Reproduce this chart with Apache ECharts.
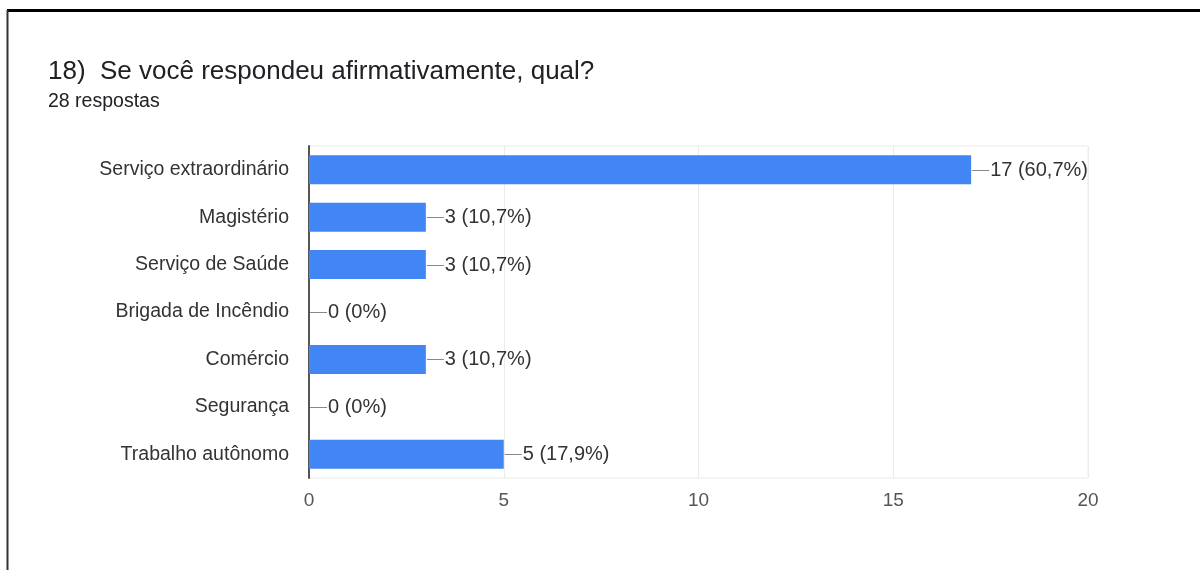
<!DOCTYPE html>
<html>
<head>
<meta charset="utf-8">
<script src="https://cdn.jsdelivr.net/npm/echarts@6/dist/echarts.min.js"></script>
<style>
  html, body { margin: 0; padding: 0; background: #fff; }
  #chartDiv { width: 1200px; height: 570px; }
</style>
</head>
<body>
<div id="chartDiv"></div>
<script>
var categories = [
  "Serviço extraordinário",
  "Magistério",
  "Serviço de Saúde",
  "Brigada de Incêndio",
  "Comércio",
  "Segurança",
  "Trabalho autônomo"
];
var counts = [17, 3, 3, 0, 3, 0, 5];
var percents = ["60,7%", "10,7%", "10,7%", "0%", "10,7%", "0%", "17,9%"];
var xTicks = [0, 5, 10, 15, 20];

var font = "'Liberation Sans', Arial, sans-serif";

var chartDiv = document.getElementById("chartDiv");
var myChart = echarts.init(chartDiv);

// label points: [value, category index]
var labelData = [];
for (var i = 0; i < counts.length; i++) {
  labelData.push([counts[i], i, counts[i] + " (" + percents[i] + ")"]);
}

var option = {
  animation: false,
  textStyle: { fontFamily: font },
  title: {
    left: 43,
    top: 54,
    text: "18)  Se você respondeu afirmativamente, qual?",
    subtext: "28 respostas",
    itemGap: 7,
    textStyle: { fontFamily: font, fontSize: 26, fontWeight: "normal", color: "#202124" },
    subtextStyle: { fontFamily: font, fontSize: 19.5, color: "#202124" }
  },
  graphic: [
    { type: "line", shape: { x1: 7, y1: 10.5, x2: 1200, y2: 10.5 }, style: { stroke: "#000", lineWidth: 3 } },
    { type: "line", shape: { x1: 7.5, y1: 10, x2: 7.5, y2: 570 }, style: { stroke: "#333", lineWidth: 2 } }
  ],
  grid: {
    left: 309, right: 112, top: 146, bottom: 92,
    show: true, borderColor: "#ebebeb", borderWidth: 1
  },
  xAxis: {
    type: "value",
    min: xTicks[0],
    max: xTicks[xTicks.length - 1],
    interval: 5,
    axisLine: { show: false },
    axisTick: { show: false },
    splitLine: { lineStyle: { color: "#ebebeb", width: 1 } },
    axisLabel: { fontSize: 19, color: "#555", margin: 13, fontFamily: font }
  },
  yAxis: {
    type: "category",
    data: categories,
    inverse: true,
    axisLine: { lineStyle: { color: "#555", width: 2 } },
    axisTick: { show: false },
    axisLabel: { fontSize: 19.5, color: "#333", margin: 20, fontFamily: font }
  },
  series: [
    {
      type: "bar",
      data: counts,
      barWidth: 29,
      itemStyle: { color: "#4285f4" }
    },
    {
      type: "custom",
      data: labelData,
      encode: { x: 0, y: 1 },
      z: 5,
      renderItem: function (params, api) {
        var p = api.coord([api.value(0), api.value(1)]);
        var x = p[0] + 1, y = Math.round(p[1]) + 0.5;
        return {
          type: "group",
          children: [
            { type: "line", shape: { x1: x, y1: y, x2: x + 17, y2: y }, style: { stroke: "#888", lineWidth: 1 } },
            {
              type: "text",
              x: x + 18, y: y,
              style: {
                text: labelData[params.dataIndex][2],
                fill: "#333",
                font: "20px " + font,
                verticalAlign: "middle",
                align: "left"
              }
            }
          ]
        };
      }
    }
  ]
};

myChart.setOption(option);
</script>
</body>
</html>
